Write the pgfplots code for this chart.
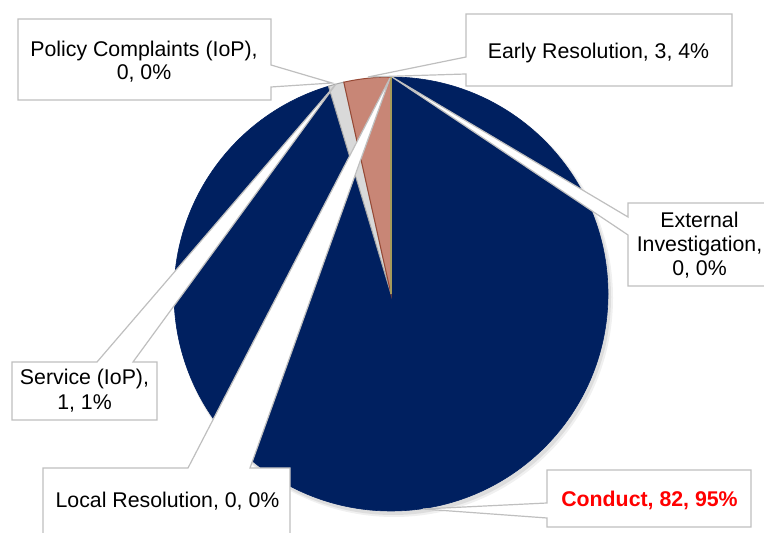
\documentclass[border=0pt]{standalone}
\usepackage{pgfplots}
\pgfplotsset{compat=1.18}
\usepackage{fontspec}
\setmainfont{Liberation Sans}
\definecolor{navyc}{RGB}{0,32,96}
\definecolor{brownc}{RGB}{200,134,118}
\definecolor{brownedge}{RGB}{150,72,52}
\definecolor{olivec}{RGB}{165,155,90}
\definecolor{grayc}{RGB}{217,217,217}
\definecolor{grayedge}{RGB}{166,166,166}
\definecolor{boxedge}{RGB}{191,191,191}
\definecolor{redc}{RGB}{255,0,0}
% data (clockwise from 12 o'clock)
\def\vConduct{82}
\def\vExternal{0}
\def\vLocal{0}
\def\vService{1}
\def\vPolicy{0}
\def\vEarly{3}
\pgfmathsetmacro\tot{\vConduct+\vExternal+\vLocal+\vService+\vPolicy+\vEarly}
\pgfmathsetmacro\aA{90-\vConduct/\tot*360}
\pgfmathsetmacro\aB{\aA-(\vExternal+\vLocal+\vService)/\tot*360}
\pgfmathsetmacro\aC{\aB-(\vPolicy+\vEarly)/\tot*360}
\def\R{108.5bp}
\begin{document}
\begin{tikzpicture}[font=\fontsize{10.65bp}{12.8bp}\selectfont]
\begin{axis}[x=0.5bp,y=0.5bp,xmin=0,xmax=764,ymin=0,ymax=533,hide axis,clip=false]
% soft shadow
\fill[black,opacity=0.06] (axis cs:394,235) circle[radius=109.5bp];
\fill[black,opacity=0.08] (axis cs:393,236) circle[radius=109bp];
% slices
\filldraw[fill=navyc,draw=navyc,line width=0.3bp] (axis cs:391,239) -- ++(90:\R) arc[start angle=90,end angle=\aA,radius=\R] -- cycle;
\filldraw[fill=grayc,draw=grayedge,line width=0.5bp] (axis cs:391,239) -- ++(\aA:\R) arc[start angle=\aA,end angle=\aB,radius=\R] -- cycle;
\filldraw[fill=brownc,draw=brownedge,line width=0.5bp] (axis cs:391,239) -- ++(\aB:\R) arc[start angle=\aB,end angle=\aC,radius=\R] -- cycle;
\draw[olivec,line width=0.6bp] (axis cs:391,239) -- ++(90:\R);
% callouts
\tikzset{co/.style={fill=white,draw=boxedge,line width=0.6bp,line join=miter}}
\filldraw[co] (axis cs:628,330) -- (axis cs:770,330) -- (axis cs:770,247) -- (axis cs:628,247) -- (axis cs:628,298) -- (axis cs:392,456) -- (axis cs:628,316) -- cycle;
\filldraw[co] (axis cs:547,63) -- (axis cs:751,63) -- (axis cs:751,6) -- (axis cs:547,6) -- (axis cs:547,15) -- (axis cs:423,24) -- (axis cs:547,30) -- cycle;
\filldraw[co] (axis cs:12,171) -- (axis cs:97,171) -- (axis cs:336,449) -- (axis cs:133,171) -- (axis cs:157,171) -- (axis cs:157,113) -- (axis cs:12,113) -- cycle;
\filldraw[co] (axis cs:43,65) -- (axis cs:188,65) -- (axis cs:390,455) -- (axis cs:250,65) -- (axis cs:290,65) -- (axis cs:290,-10) -- (axis cs:43,-10) -- cycle;
\filldraw[co] (axis cs:18,514) -- (axis cs:271,514) -- (axis cs:271,468) -- (axis cs:332,450) -- (axis cs:271,446) -- (axis cs:271,433) -- (axis cs:18,433) -- cycle;
\filldraw[co] (axis cs:466,519) -- (axis cs:732,519) -- (axis cs:732,447) -- (axis cs:466,447) -- (axis cs:466,459) -- (axis cs:368,456) -- (axis cs:466,476) -- cycle;
% labels
\node[anchor=base,inner sep=0pt] at (axis cs:144,476) {Policy Complaints (IoP),};
\node[anchor=base,inner sep=0pt] at (axis cs:144,453) {0, 0\%};
\node[anchor=base,inner sep=0pt] at (axis cs:598.5,474) {Early Resolution, 3, 4\%};
\node[anchor=base,inner sep=0pt] at (axis cs:699.5,305.7) {External};
\node[anchor=base,inner sep=0pt] at (axis cs:699.5,281.3) {Investigation,};
\node[anchor=base,inner sep=0pt] at (axis cs:699.5,257) {0, 0\%};
\node[anchor=base,inner sep=0pt] at (axis cs:84.5,148) {Service (IoP),};
\node[anchor=base,inner sep=0pt] at (axis cs:84.5,123) {1, 1\%};
\node[anchor=base,inner sep=0pt] at (axis cs:167.5,25) {Local Resolution, 0, 0\%};
\node[anchor=base,inner sep=0pt,text=redc,font=\fontsize{10.65bp}{12.8bp}\selectfont\bfseries] at (axis cs:649.5,26) {Conduct, 82, 95\%};
\end{axis}
\pgfresetboundingbox
\path (current axis.south west) rectangle (current axis.north east);
\end{tikzpicture}
\end{document}
